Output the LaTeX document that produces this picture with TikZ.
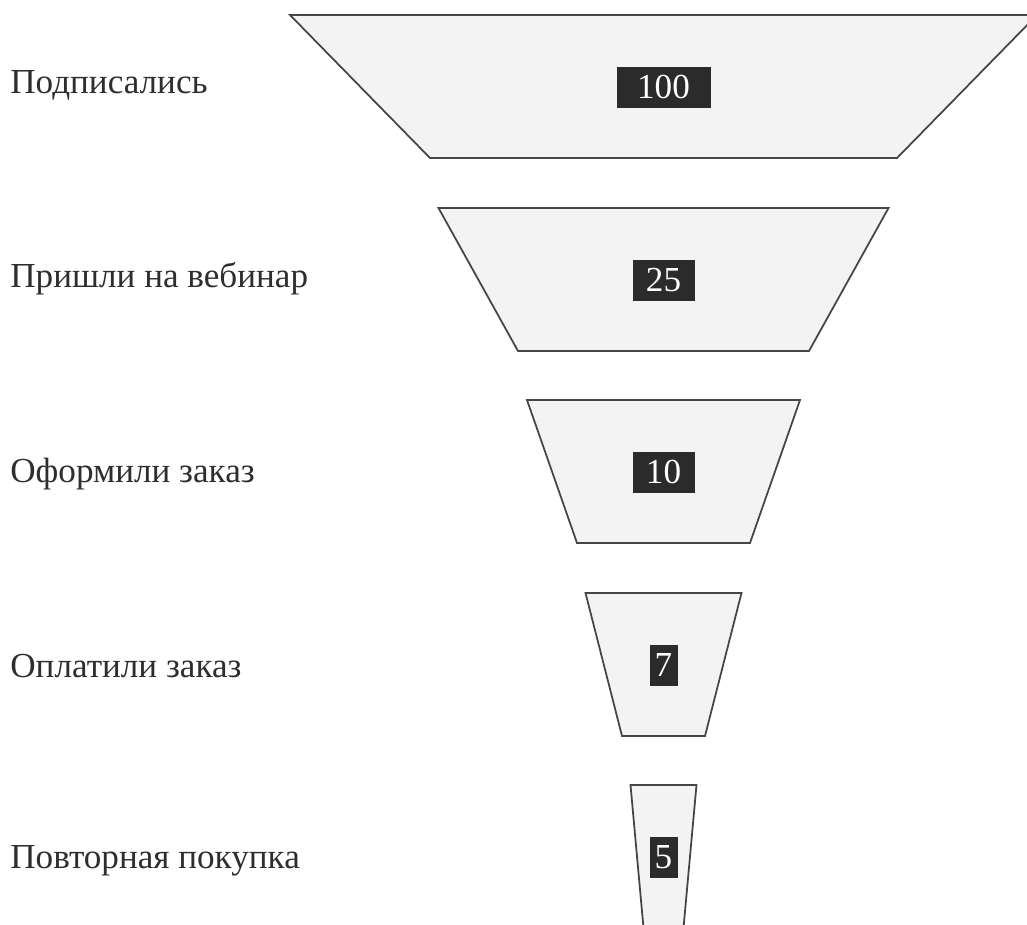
\documentclass[tikz,border=0pt]{standalone}
\usepackage{fontspec}
\setmainfont{Liberation Serif}
\definecolor{funnelfill}{HTML}{F3F3F3}
\definecolor{funneledge}{HTML}{454545}
\definecolor{countbg}{HTML}{2B2B2B}

\begin{document}
\begin{tikzpicture}[x=0.02cm, y=-0.02cm,
    stage/.style={draw=funneledge, fill=funnelfill, line width=1pt},
    count/.style={fill=countbg, text=white, inner sep=0pt, minimum height=0.82cm,
      font=\fontsize{20}{22}\selectfont},
    caption/.style={anchor=base west, inner sep=0pt, text=black!82,
      font=\fontsize{20}{22}\selectfont}]
  \useasboundingbox (0,0) rectangle (1027,924);
  \clip (0,0) rectangle (1027,924);

  % stage / top / top half width / bottom half width / box width / baseline / count / caption
  \foreach \i/\top/\tw/\bw/\bx/\bl/\num/\txt in {
      1/15/373.5/233.5/94/93/100/Подписались,
      2/208/225/145.5/62/287/25/Пришли на вебинар,
      3/400/136.5/86.5/62/482/10/Оформили заказ,
      4/593/78/41.5/28/677/7/Оплатили заказ,
      5/785/33/20/28/868/5/Повторная покупка}{
    \draw[stage] (663.5-\tw,\top) -- (663.5+\tw,\top) -- (663.5+\bw,\top+143)
      -- (663.5-\bw,\top+143) -- cycle;
    \node[count, minimum width=\bx*0.02cm] (n\i) at (663.5,\top+72) {\num};
    \node[caption] (s\i) at (10,\bl) {\txt};
  }
\end{tikzpicture}
\end{document}
